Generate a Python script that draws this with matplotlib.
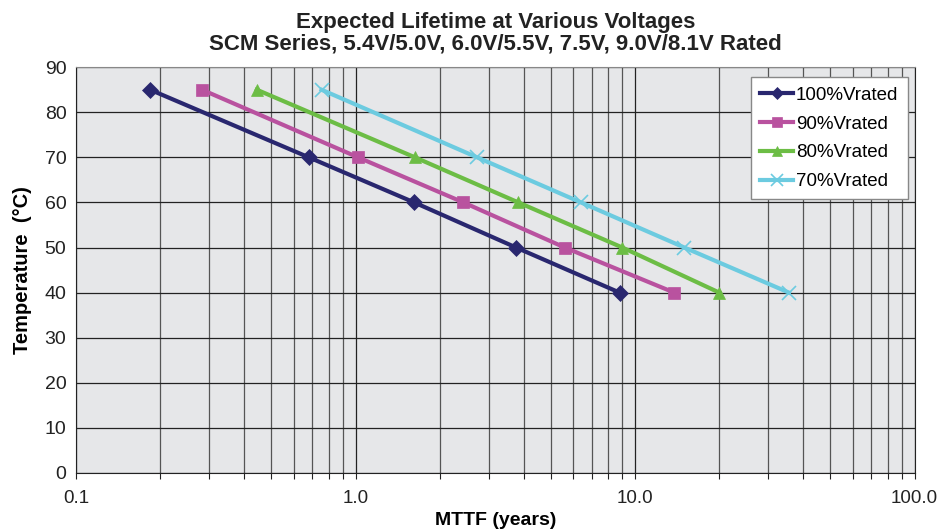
import matplotlib
matplotlib.use("Agg")
import matplotlib.pyplot as plt
from matplotlib.ticker import LogLocator, NullFormatter
import numpy as np

plt.rcParams['font.family'] = ['Liberation Sans', 'DejaVu Sans']

temps = [85, 70, 60, 50, 40]
mttf_100 = [0.184, 0.68, 1.62, 3.75, 8.8]
mttf_90 = [0.282, 1.02, 2.43, 5.6, 13.8]
mttf_80 = [0.443, 1.63, 3.82, 9.0, 20.0]
mttf_70 = [0.755, 2.72, 6.4, 15.0, 35.5]

series = [
    ("100%Vrated", mttf_100, "#29276f", "D", 8),
    ("90%Vrated", mttf_90, "#b9529f", "s", 9),
    ("80%Vrated", mttf_80, "#6cbd45", "^", 9),
    ("70%Vrated", mttf_70, "#6ccbe0", "x", 10),
]

fig = plt.figure(figsize=(9.4, 5.29), dpi=100)
ax = fig.add_axes([0.081, 0.106, 0.892, 0.767])
ax.set_facecolor("#e6e7e9")

for name, xs, col, mk, ms in series:
    ax.plot(xs, temps, color=col, lw=3, marker=mk, markersize=ms,
            markeredgewidth=1.2 if mk == "x" else 0.5, markeredgecolor=col,
            label=name)

ax.set_xscale("log")
ax.set_xlim(0.1, 100)
ax.set_ylim(0, 90)
ax.set_xticks([0.1, 1, 10, 100], ["0.1", "1.0", "10.0", "100.0"])
ax.xaxis.set_minor_locator(LogLocator(base=10, subs=np.arange(2, 10)))
ax.xaxis.set_minor_formatter(NullFormatter())
ax.set_yticks(np.arange(0, 91, 10))

ax.grid(True, which="major", axis="both", color="#222222", lw=0.9)
ax.grid(True, which="minor", axis="x", color="#555555", lw=0.9)
ax.set_axisbelow(True)

ax.tick_params(axis="both", which="both", colors="#222222")
ax.tick_params(axis="x", which="major", labelsize=13.5, length=4, width=0.8, pad=8)
ax.tick_params(axis="x", which="minor", length=4, width=0.8)
ax.tick_params(axis="y", labelsize=14, length=0, pad=7)

for s in ["left", "bottom", "right"]:
    ax.spines[s].set_color("#222222")
ax.spines["top"].set_color("#888888")

ax.set_xlabel("MTTF (years)", fontsize=14, fontweight="bold", labelpad=4)
ax.set_ylabel("Temperature  (\u00b0C)", fontsize=14.5, fontweight="bold", labelpad=9)
ax.set_title("Expected Lifetime at Various Voltages\nSCM Series, 5.4V/5.0V, 6.0V/5.5V, 7.5V, 9.0V/8.1V Rated",
             fontsize=16, fontweight="bold", color="#222222", pad=13, linespacing=1.0)

leg = ax.legend(loc="upper right", bbox_to_anchor=(0.9917, 0.975), fontsize=13.5,
                frameon=True, fancybox=False, framealpha=1, edgecolor="#888888",
                handlelength=1.75, handletextpad=0.15, borderpad=0.5, labelspacing=0.62,
                borderaxespad=0, markerscale=0.8)
leg.get_frame().set_linewidth(1.0)

fig.savefig("out.png", dpi=100)
